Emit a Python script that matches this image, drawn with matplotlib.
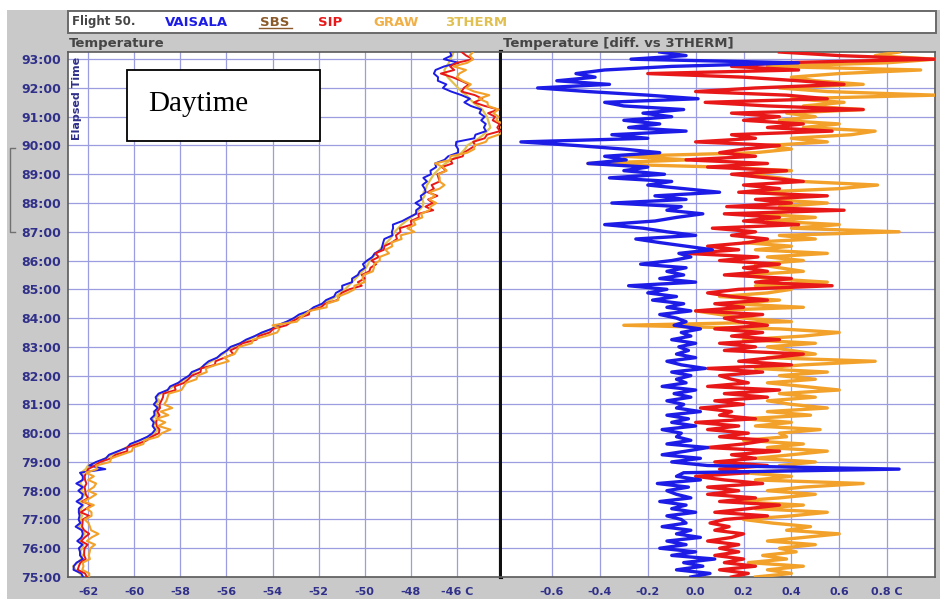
import numpy as np
import matplotlib
matplotlib.use("Agg")
import matplotlib.pyplot as plt
from matplotlib.patches import Rectangle
from matplotlib.lines import Line2D

# ---------------------------------------------------------------------------
# Data: flight 50, elapsed time 75:00 - 93:15, samples every 7.5 s
# ---------------------------------------------------------------------------
STEP_MIN = 0.125

# 3THERM reference temperature (deg C), one row per minute
therm_temp = [
    -62.20, -62.35, -62.55, -62.65, -62.45, -62.30, -62.25, -62.35,   # 75
    -62.25, -62.20, -62.35, -62.30, -62.15, -62.25, -62.40, -62.30,   # 76
    -62.35, -62.25, -62.40, -62.30, -62.20, -62.35, -62.25, -62.15,   # 77
    -62.30, -62.20, -62.35, -62.25, -62.15, -62.30, -62.10, -62.00,   # 78
    -61.55, -61.25, -60.95, -60.65, -60.35, -60.05, -59.75, -59.35,   # 79
    -59.15, -58.95, -59.20, -59.05, -59.25, -59.00, -59.15, -58.90,   # 80
    -59.10, -58.90, -59.05, -58.85, -58.55, -58.30, -58.05, -57.80,   # 81
    -57.60, -57.40, -57.15, -56.90, -56.65, -56.40, -56.15, -55.95,   # 82
    -55.75, -55.40, -55.05, -54.75, -54.40, -54.05, -53.70, -53.35,   # 83
    -53.00, -52.70, -52.40, -52.10, -51.80, -51.50, -51.25, -51.05,   # 84
    -50.85, -50.70, -50.55, -50.40, -50.25, -50.10, -49.95, -49.85,   # 85
    -49.80, -49.65, -49.50, -49.35, -49.20, -49.05, -48.90, -48.80,   # 86
    -48.70, -48.55, -48.40, -48.20, -48.00, -47.80, -47.65, -47.50,   # 87
    -47.45, -47.50, -47.40, -47.45, -47.35, -47.30, -47.20, -47.10,   # 88
    -47.00, -46.85, -46.70, -46.50, -46.25, -46.00, -45.80, -45.65,   # 89
    -45.55, -45.30, -45.05, -44.85, -44.70, -44.55, -44.60, -44.65,   # 90
    -44.70, -44.80, -44.90, -45.10, -45.30, -45.45, -45.60, -45.80,   # 91
    -45.95, -46.10, -46.25, -46.40, -46.50, -46.55, -46.45, -46.35,   # 92
    -46.30, -46.20, -46.15,                                           # 93
]

# Differences versus 3THERM (deg C)
vaisala_diff = [
    -0.02, 0.06, -0.08, 0.03, -0.05, 0.08, -0.10, 0.00,
    -0.15, -0.04, -0.12, 0.02, -0.08, -0.02, -0.14, -0.04,
    -0.06, -0.12, 0.00, -0.10, -0.04, -0.15, -0.02, -0.08,
    -0.12, -0.03, -0.16, 0.02, -0.08, -0.05, 0.85, 0.05,
    -0.10, 0.02, -0.14, -0.04, 0.05, -0.12, -0.02, -0.08,
    -0.06, -0.14, 0.00, -0.10, -0.03, -0.12, 0.02, -0.08,
    -0.05, -0.12, -0.02, -0.09, 0.00, -0.14, -0.04, -0.08,
    -0.02, -0.10, 0.04, -0.06, -0.12, 0.00, -0.08, -0.03,
    -0.07, 0.00, -0.10, -0.02, -0.06, 0.02, -0.09, -0.04,
    -0.08, -0.15, -0.02, -0.12, -0.05, -0.18, -0.08, -0.20,
    -0.12, -0.28, 0.00, -0.15, -0.05, -0.12, -0.04, -0.23,
    -0.10, -0.02, -0.07, 0.07, -0.04, -0.15, -0.25, 0.00,
    -0.12, -0.22, -0.38, -0.17, -0.08, 0.03, -0.12, -0.06,
    -0.35, -0.04, -0.17, 0.10, -0.05, -0.20, -0.10, -0.36,
    -0.13, -0.30, -0.20, -0.45, -0.29, -0.38, -0.15, -0.30,
    -0.50, -0.73, -0.20, -0.35, -0.04, -0.28, -0.15, -0.30,
    -0.10, -0.22, -0.05, -0.30, -0.38, 0.01, -0.20, -0.45,
    -0.66, -0.36, -0.58, -0.42, -0.50, -0.38, -0.10, 0.43,
    -0.27, -0.04, -0.15,
]

sip_diff = [
    0.15, 0.22, 0.10, 0.25, 0.12, 0.20, 0.08, 0.18,
    0.10, 0.18, 0.05, 0.15, 0.20, 0.08, 0.14, 0.06,
    0.12, 0.30, 0.08, 0.22, 0.35, 0.10, 0.25, 0.05,
    0.18, 0.05, 0.28, 0.12, 0.00, 0.22, 0.10, 0.30,
    0.08, 0.25, 0.15, 0.35, 0.05, 0.20, 0.30, 0.10,
    0.22, 0.05, 0.18, 0.00, 0.25, 0.10, 0.15, 0.02,
    0.20, 0.08, 0.30, 0.12, 0.35, 0.05, 0.22, 0.15,
    0.10, 0.28, 0.05, 0.40, 0.18, 0.32, 0.45, 0.12,
    0.25, 0.10, 0.35, 0.15, 0.28, 0.08, 0.30, 0.18,
    0.12, 0.28, 0.00, 0.20, 0.08, 0.30, 0.15, 0.05,
    0.18, 0.57, 0.25, 0.40, 0.12, 0.30, 0.20, 0.35,
    0.10, 0.26, -0.04, 0.18, 0.05, 0.22, 0.30, 0.15,
    0.25, 0.07, 0.43, 0.20, 0.35, 0.12, 0.62, 0.13,
    0.40, 0.25, 0.55, 0.18, 0.35, 0.20, 0.45, 0.30,
    0.15, 0.38, 0.05, 0.30, -0.04, 0.25, 0.10, 0.20,
    0.35, 0.00, 0.25, 0.15, 0.57, 0.30, 0.45, 0.20,
    0.35, 0.15, 0.70, 0.30, 0.04, 0.55, 0.38, 0.00,
    0.25, 0.62, 0.43, 0.20, -0.20, 0.43, 0.15, 0.35,
    1.00, 0.60, 0.35,
]

graw_diff = [
    0.25, 0.40, 0.30, 0.45, 0.22, 0.38, 0.28, 0.42,
    0.35, 0.50, 0.30, 0.45, 0.60, 0.38, 0.48, 0.32,
    0.20, 0.40, 0.55, 0.25, 0.45, 0.15, 0.35, 0.50,
    0.30, 0.45, 0.70, 0.25, 0.40, 0.20, 0.48, 0.35,
    0.50, 0.25, 0.40, 0.55, 0.30, 0.45, 0.20, 0.38,
    0.35, 0.52, 0.25, 0.40, 0.20, 0.48, 0.30, 0.55,
    0.40, 0.30, 0.50, 0.35, 0.60, 0.45, 0.30, 0.50,
    0.35, 0.55, 0.25, 0.45, 0.75, 0.30, 0.50, 0.40,
    0.30, 0.50, 0.20, 0.45, 0.60, 0.35, -0.30, 0.40,
    0.20, 0.10, 0.00, 0.45, 0.15, 0.35, 0.10, 0.30,
    0.40, 0.25, 0.55, 0.30, 0.20, 0.45, 0.35, 0.25,
    0.45, 0.30, 0.55, 0.25, 0.40, 0.20, 0.50, 0.35,
    0.85, 0.40, 0.60, 0.30, 0.50, 0.25, 0.45, 0.35,
    0.55, 0.30, 0.45, 0.25, 0.60, 0.76, 0.44, 0.35,
    0.20, 0.40, 0.10, -0.45, -0.03, -0.30, 0.25, 0.40,
    0.30, 0.55, 0.40, 0.65, 0.75, 0.45, 0.60, 0.35,
    0.50, 0.38, 0.70, 0.45, 0.62, 0.40, 1.00, 0.55,
    0.35, 0.70, 0.50, 0.40, 0.60, 0.94, 0.30, 0.80,
    1.00, 0.75, 0.85,
]

temp_ticks = [-62, -60, -58, -56, -54, -52, -50, -48, -46]
temp_tick_labels = ["-62", "-60", "-58", "-56", "-54", "-52", "-50", "-48", "-46 C"]
diff_ticks = [-0.6, -0.4, -0.2, 0.0, 0.2, 0.4, 0.6, 0.8]
diff_tick_labels = ["-0.6", "-0.4", "-0.2", "0.0", "0.2", "0.4", "0.6", "0.8 C"]
time_ticks = list(range(75, 94))
time_tick_labels = [f"{m}:00" for m in time_ticks]

legend_items = ["VAISALA", "SBS", "SIP", "GRAW", "3THERM"]

# ---------------------------------------------------------------------------
# Styling
# ---------------------------------------------------------------------------
W, H = 940, 599
BG = "#c9c9c9"
GRID = "#9c9ce0"
LABEL = "#30308a"
TITLE = "#454545"
C_VAISALA = "#1c1ce6"
C_SBS = "#8a5a2a"
C_SIP = "#e81818"
C_GRAW = "#f2a22a"
C_THERM = "#e0c050"
legend_colors = [C_VAISALA, C_SBS, C_SIP, "#f0b048", C_THERM]

plt.rcParams["font.family"] = ["DejaVu Sans"]

minutes = 75 + np.arange(len(therm_temp)) * STEP_MIN
therm = np.array(therm_temp)
d_vai = np.array(vaisala_diff)
d_sip = np.array(sip_diff)
d_graw = np.array(graw_diff)


def px_rect(x0, y0, x1, y1):
    return [x0 / W, 1 - y1 / H, (x1 - x0) / W, (y1 - y0) / H]


def fx(x):
    return x / W


def fy(y):
    return 1 - y / H


fig = plt.figure(figsize=(W / 100, H / 100), dpi=100, facecolor="white")

# panel background
fig.patches.append(Rectangle((fx(7), 0), 1 - fx(7), fy(10), transform=fig.transFigure,
                             facecolor=BG, edgecolor="none", zorder=-10))

# legend strip
fig.patches.append(Rectangle((fx(68), fy(33)), fx(936) - fx(68), fy(11) - fy(33),
                             transform=fig.transFigure, facecolor="white",
                             edgecolor="#6a6a6a", linewidth=1.4, zorder=1))
fig.text(fx(72), fy(22), "Flight 50.", color=TITLE, fontsize=8.5, fontweight="bold",
         va="center", ha="left")
legend_x = [165, 260, 318, 373, 445]
for name, col, lx in zip(legend_items, legend_colors, legend_x):
    fig.text(fx(lx), fy(22), name, color=col, fontsize=9.5, fontweight="bold",
             va="center", ha="left")
fig.lines.append(Line2D([fx(259), fx(292)], [fy(28), fy(28)], transform=fig.transFigure,
                        color=C_SBS, linewidth=1))

# panel titles
fig.text(fx(69), fy(44), "Temperature", color=TITLE, fontsize=9.5, fontweight="bold",
         va="center", ha="left")
fig.text(fx(503), fy(44), "Temperature [diff. vs 3THERM]", color=TITLE, fontsize=9.5,
         fontweight="bold", va="center", ha="left")

# bracket on the far left
fig.lines.append(Line2D([fx(15), fx(10), fx(10), fx(15)], [fy(148), fy(148), fy(232), fy(232)],
                        transform=fig.transFigure, color="#707070", linewidth=1))

axL = fig.add_axes(px_rect(68, 52, 501, 577))
axR = fig.add_axes(px_rect(502, 52, 935, 577))

for ax in (axL, axR):
    ax.set_facecolor("white")
    ax.set_ylim(75.0, 93.25)
    ax.set_yticks(time_ticks)
    ax.grid(True, color=GRID, linewidth=0.9)
    ax.set_axisbelow(True)
    ax.tick_params(length=0, labelsize=8, colors=LABEL)
    for s in ax.spines.values():
        s.set_color("#5a5a5a")
        s.set_linewidth(1.2)

# left: temperature profiles
axL.set_xlim(-62.87, -44.09)
axL.set_xticks(temp_ticks)
axL.set_xticklabels(temp_tick_labels, fontweight="bold")
axL.set_yticklabels(time_tick_labels, fontweight="bold", fontsize=9)
axL.tick_params(axis="x", pad=7)
axL.tick_params(axis="y", pad=5)
axL.spines["right"].set_color("#101010")
axL.spines["right"].set_linewidth(3)
axL.plot(therm, minutes, color=C_THERM, linewidth=1.6, zorder=2)
axL.plot(therm + d_vai, minutes, color=C_VAISALA, linewidth=1.4, zorder=3)
axL.plot(therm + d_sip, minutes, color=C_SIP, linewidth=1.4, zorder=4)
axL.plot(therm + d_graw, minutes, color=C_GRAW, linewidth=1.5, zorder=5)
axL.text(0.021, 0.912, "Elapsed Time", transform=axL.transAxes, rotation=90,
         color=LABEL, fontsize=8, fontweight="bold", ha="center", va="center")

# right: differences versus 3THERM
axR.set_xlim(-0.809, 1.0)
axR.set_xticks(diff_ticks)
axR.set_xticklabels(diff_tick_labels, fontweight="bold")
axR.tick_params(axis="x", pad=7)
axR.set_yticklabels([])
axR.spines["left"].set_visible(False)
axR.plot(d_graw, minutes, color=C_GRAW, linewidth=2.4, zorder=3)
axR.plot(d_sip, minutes, color=C_SIP, linewidth=2.4, zorder=4)
axR.plot(d_vai, minutes, color=C_VAISALA, linewidth=2.4, zorder=5)

# annotation box
fig.patches.append(Rectangle((fx(127), fy(141)), fx(320) - fx(127), fy(70) - fy(141),
                             transform=fig.transFigure, facecolor="white",
                             edgecolor="black", linewidth=1.3, zorder=10))
fig.text(fx(148), fy(104), "Daytime", family="Liberation Serif", fontsize=21,
         color="black", va="center", ha="left", zorder=11)

fig.savefig("out.png", dpi=100, facecolor=fig.get_facecolor())
